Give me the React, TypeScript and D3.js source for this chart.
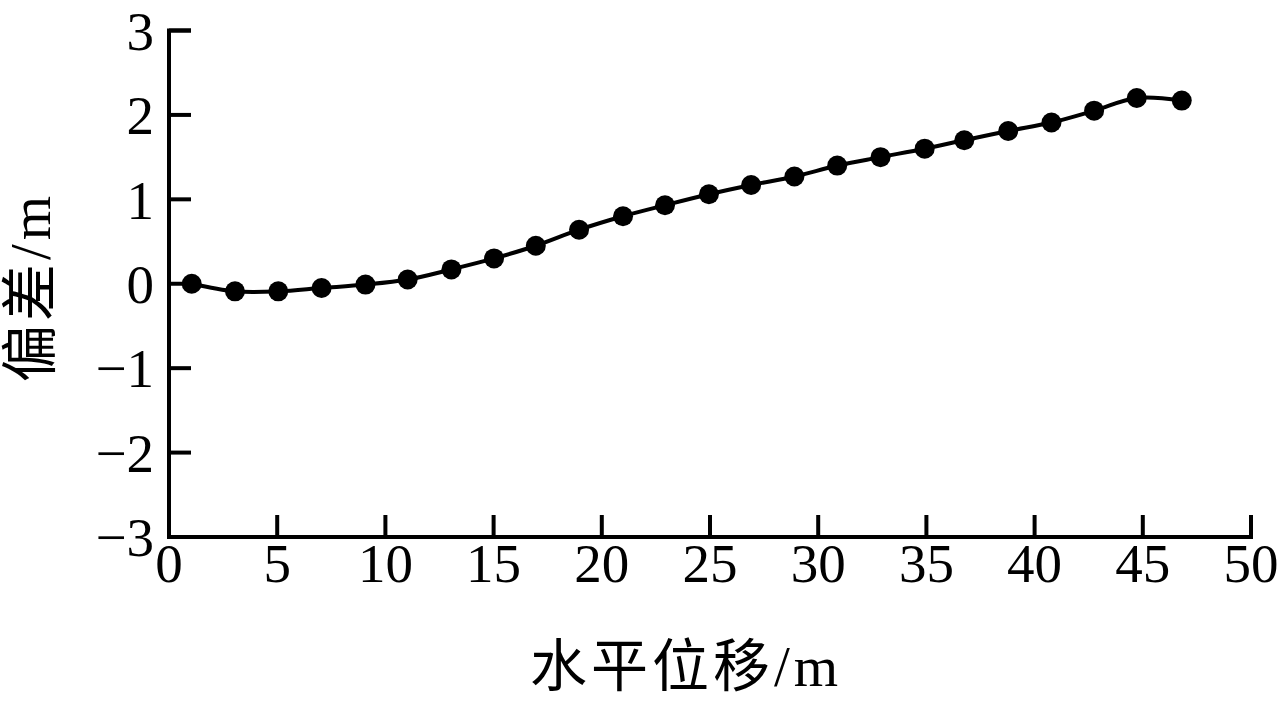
import React from "react";
import * as d3 from "d3";

const xValues = [1.05, 3.05, 5.05, 7.05, 9.08, 11.03, 13.05, 15.02, 16.95, 18.95, 20.98, 22.92, 24.95, 26.9, 28.9, 30.88, 32.88, 34.92, 36.75, 38.78, 40.78, 42.75, 44.72, 46.8];
const yValues = [0, -0.09, -0.09, -0.05, -0.01, 0.05, 0.17, 0.3, 0.45, 0.64, 0.8, 0.93, 1.06, 1.17, 1.27, 1.4, 1.5, 1.6, 1.7, 1.81, 1.91, 2.05, 2.2, 2.17];
const xTicks = [0, 5, 10, 15, 20, 25, 30, 35, 40, 45, 50];
const yTicks = [-3, -2, -1, 0, 1, 2, 3];
const xLabel = "水平位移/m";
const yLabel = "偏差/m";

const W = 1283;
const H = 702;
const left = 169;
const right = 1251;
const top = 30.5;
const bottom = 537;
const font = "'Liberation Serif', 'Times New Roman', 'Noto Sans CJK SC', serif";

export default function App() {
  const x = d3.scaleLinear().domain([0, 50]).range([left, right]);
  const y = d3.scaleLinear().domain([-3, 3]).range([bottom, top]);
  const data = xValues.map((v, i) => [v, yValues[i]] as [number, number]);
  const line = d3
    .line<[number, number]>()
    .x((d) => x(d[0]))
    .y((d) => y(d[1]))
    .curve(d3.curveCatmullRom.alpha(0.5));
  const tickLen = 22;
  const sw = 4;
  return (
    <svg
      width={W}
      height={H}
      style={{ position: "absolute", left: 0, top: 0, background: "#fff" }}
    >
      <rect x={0} y={0} width={W} height={H} fill="#fff" />
      {/* axes */}
      <path
        d={`M${left + tickLen},${top}H${left}V${bottom}H${right}V${bottom - tickLen}`}
        fill="none"
        stroke="#000"
        strokeWidth={sw}
      />
      {yTicks.map((t) => (
        <g key={"y" + t}>
          <line x1={left} x2={left + tickLen} y1={y(t)} y2={y(t)} stroke="#000" strokeWidth={sw} />
          <text
            x={154}
            y={y(t)}
            dy="0.35em"
            textAnchor="end"
            fontFamily={font}
            fontSize={55}
            fill="#000"
          >
            {t < 0 ? "\u2212" + Math.abs(t) : String(t)}
          </text>
        </g>
      ))}
      {xTicks.map((t) => (
        <g key={"x" + t}>
          {t > 0 && t < 50 && (
            <line x1={x(t)} x2={x(t)} y1={bottom} y2={bottom - tickLen} stroke="#000" strokeWidth={sw} />
          )}
          <text
            x={x(t)}
            y={bottom + 45}
            textAnchor="middle"
            fontFamily={font}
            fontSize={55}
            fill="#000"
          >
            {t}
          </text>
        </g>
      ))}
      {/* data */}
      <path d={line(data) || ""} fill="none" stroke="#000" strokeWidth={sw} />
      {data.map((d, i) => (
        <circle key={i} cx={x(d[0])} cy={y(d[1])} r={10} fill="#000" />
      ))}
      {/* labels */}
      <text
        x={686}
        y={686}
        textAnchor="middle"
        fontFamily={font}
        fontSize={57}
        letterSpacing={4}
        fill="#000"
      >
        {xLabel}
      </text>
      <text
        transform={`translate(50, 287) rotate(-90)`}
        textAnchor="middle"
        fontFamily={font}
        fontSize={57}
        letterSpacing={4}
        fill="#000"
      >
        {yLabel}
      </text>
    </svg>
  );
}
